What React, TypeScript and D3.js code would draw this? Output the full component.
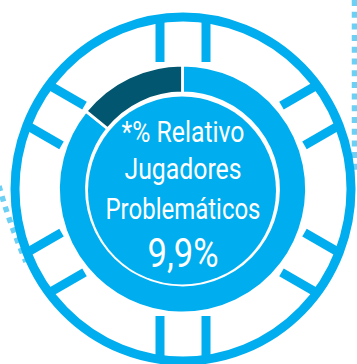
import React from "react";
import * as d3 from "d3";

// ---- data ----
const SEGMENTS = ["Resto", "Problemáticos"];
const SHARES = [85.8, 14.2];
const LABEL_LINES = ["*% Relativo", "Jugadores", "Problemáticos"];
const VALUE_LABEL = "9,9%";
const SPOKE_DIRECTIONS = [0, 60, 120, 180, 240, 300];

// ---- style / layout ----
const W = 357;
const H = 364;
const BLUE = "#00AEEF";
const DARK = "#03566F";
const DOTS = "#6CCFF4";
const FONT = "'Liberation Sans Narrow', 'Roboto', 'Liberation Sans', sans-serif";

export default function App() {
  const cx = 182.5;
  const cy = 189;
  const pie = d3
    .pie<number>()
    .sort(null)
    .value((d) => d)
    .startAngle(0)
    .endAngle(2 * Math.PI);
  const arcs = pie(SHARES);
  const arc = d3.arc<d3.PieArcDatum<number>>().innerRadius(96).outerRadius(124);
  const color = d3.scaleOrdinal<string, string>().domain(SEGMENTS).range([BLUE, DARK]);

  const lineLayout = [
    { y: 141.5, size: 29.5, w: 123 },
    { y: 178.5, size: 29.5, w: 117 },
    { y: 218.5, size: 29.5, w: 155 },
  ];

  return (
    <svg
      width={W}
      height={H}
      viewBox={`0 0 ${W} ${H}`}
      style={{ position: "absolute", left: 0, top: 0, background: "#fff" }}
    >
      {/* dotted decorations */}
      <line x1={354.5} y1={0} x2={354.5} y2={170} stroke={DOTS} strokeWidth={5.5} strokeDasharray="6 5.7" />
      <path d="M -1 186 Q 9 222 26 262" fill="none" stroke={DOTS} strokeWidth={5.5} strokeDasharray="5.5 5.5" />

      {/* spokes */}
      <g transform={`translate(${cx + 0.5},${cy})`}>
        {SPOKE_DIRECTIONS.map((a) =>
          [-23, 23].map((off) => (
            <rect
              key={`${a}-${off}`}
              x={off - 4.5}
              y={-169}
              width={9}
              height={42}
              fill={BLUE}
              transform={`rotate(${a})`}
            />
          ))
        )}
      </g>

      {/* outer ring */}
      <ellipse cx={183} cy={189} rx={168} ry={172} fill="none" stroke={BLUE} strokeWidth={9} />

      {/* donut */}
      <g transform={`translate(${cx},${cy})`}>
        {arcs.map((d, i) => (
          <path key={SEGMENTS[i]} d={arc(d) || ""} fill={color(SEGMENTS[i])} stroke="#fff" strokeWidth={2.8} />
        ))}
        <circle cx={-0.5} cy={1.5} r={94} fill={BLUE} />
      </g>

      {/* labels */}
      {LABEL_LINES.map((t, i) => (
        <text
          key={t}
          x={183}
          y={lineLayout[i].y}
          textAnchor="middle"
          fill="#fff"
          fontFamily={FONT}
          fontSize={lineLayout[i].size}
          textLength={lineLayout[i].w}
          lengthAdjust="spacingAndGlyphs"
        >
          {t}
        </text>
      ))}
      <text
        x={183}
        y={267}
        textAnchor="middle"
        fill="#fff"
        fontFamily={FONT}
        fontSize={41}
        textLength={71}
        lengthAdjust="spacingAndGlyphs"
      >
        {VALUE_LABEL}
      </text>
    </svg>
  );
}
